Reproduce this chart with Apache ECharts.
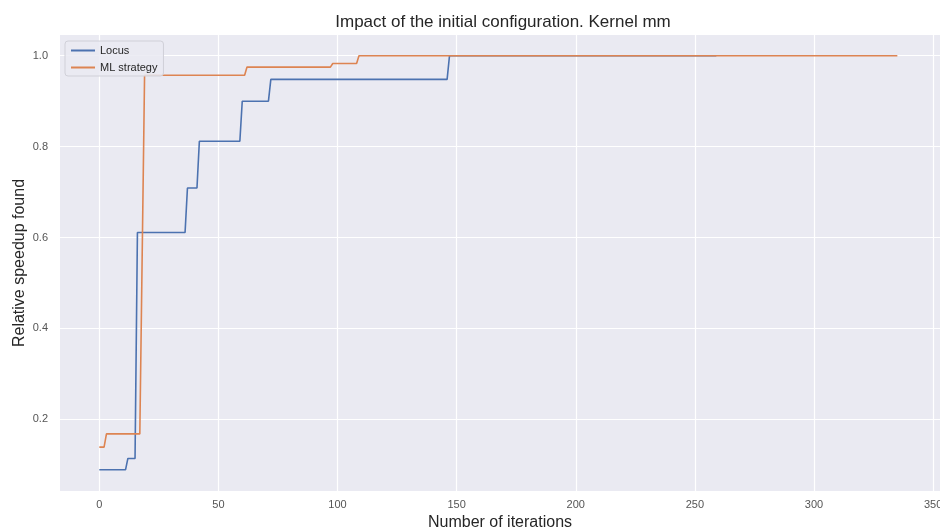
<!DOCTYPE html>
<html><head><meta charset="utf-8">
<script src="https://cdn.jsdelivr.net/npm/echarts@6/dist/echarts.min.js"></script>
<style>html,body{margin:0;padding:0;background:#fff}#c{width:940px;height:531px}</style>
</head><body><div id="c"></div>
<script>
const locusX = [0, 11, 12, 15, 16, 36, 37, 41, 42, 59, 60, 71, 72, 146, 147, 259];
const locusY = [0.089, 0.089, 0.114, 0.114, 0.611, 0.611, 0.709, 0.709, 0.812, 0.812, 0.900, 0.900, 0.948, 0.948, 1.0, 1.0];
const mlX = [0, 2, 3, 17, 19, 61, 62, 97, 98, 108, 109, 335];
const mlY = [0.139, 0.139, 0.168, 0.168, 0.957, 0.957, 0.975, 0.975, 0.983, 0.983, 1.0, 1.0];
const xTicks = [0, 50, 100, 150, 200, 250, 300, 350];
const yTicks = [0.2, 0.4, 0.6, 0.8, 1.0];
const seriesNames = ['Locus', 'ML strategy'];
const titleText = 'Impact of the initial configuration. Kernel mm';
const xName = 'Number of iterations';
const yName = 'Relative speedup found';

const zip = (xs, ys) => xs.map((x, i) => [x, ys[i]]);
const font = 'Liberation Sans, Arial, sans-serif';
const chart = echarts.init(document.getElementById('c'), null, {renderer: 'canvas'});
chart.setOption({
  animation: false,
  backgroundColor: '#ffffff',
  title: {text: titleText, left: 498, top: 9, textAlign: 'center',
    textStyle: {fontFamily: font, fontSize: 17, fontWeight: 'normal', color: '#262626'}},
  legend: {
    orient: 'vertical', left: 65, top: 41, itemWidth: 24, itemHeight: 2, itemGap: 6,
    data: seriesNames.map(n => ({name: n, icon: 'rect'})),
    backgroundColor: 'rgba(234,234,242,0.85)', borderColor: '#d0d0d8', borderWidth: 1, borderRadius: 3,
    padding: [4, 6, 3, 6],
    textStyle: {fontFamily: font, fontSize: 11, color: '#262626'}
  },
  grid: {left: 60, right: 0, top: 35, bottom: 40, show: true, backgroundColor: '#eaeaf2', borderWidth: 0,
    outerBoundsMode: 'none', containLabel: false},
  xAxis: {
    type: 'value', min: -16.5, max: 352.9,
    name: xName, nameLocation: 'middle', nameGap: 24, nameMoveOverlap: false,
    nameTextStyle: {fontFamily: font, fontSize: 16, color: '#262626'},
    axisLine: {show: false}, axisTick: {show: false, customValues: xTicks},
    axisLabel: {customValues: xTicks, fontFamily: font, fontSize: 11, color: '#555', margin: 8,
      formatter: v => String(Math.round(v))},
    splitLine: {show: true, lineStyle: {color: '#ffffff', width: 1.2}}
  },
  yAxis: {
    type: 'value', min: 0.0424, max: 1.0456,
    name: yName, nameLocation: 'middle', nameGap: 32, nameMoveOverlap: false,
    nameTextStyle: {fontFamily: font, fontSize: 16, color: '#262626'},
    axisLine: {show: false}, axisTick: {show: false, customValues: yTicks},
    axisLabel: {customValues: yTicks, fontFamily: font, fontSize: 11, color: '#555', margin: 12,
      formatter: v => v.toFixed(1)},
    splitLine: {show: true, lineStyle: {color: '#ffffff', width: 1.2}}
  },
  series: [
    {name: seriesNames[0], type: 'line', data: zip(locusX, locusY), showSymbol: false,
      lineStyle: {color: '#4c72b0', width: 1.6}, itemStyle: {color: '#4c72b0'}},
    {name: seriesNames[1], type: 'line', data: zip(mlX, mlY), showSymbol: false,
      lineStyle: {color: '#dd8452', width: 1.6}, itemStyle: {color: '#dd8452'}}
  ]
});
</script></body></html>
